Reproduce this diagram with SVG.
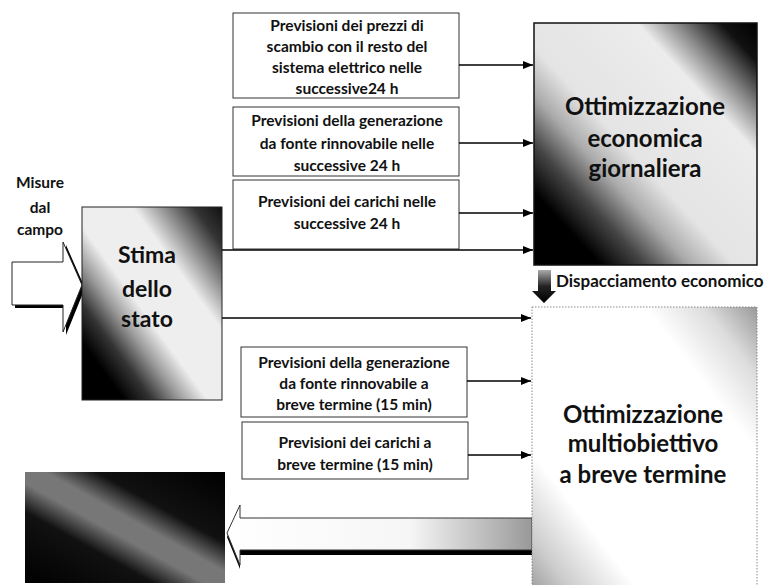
<svg xmlns="http://www.w3.org/2000/svg" width="770" height="585" viewBox="0 0 770 585">
<defs>
<linearGradient id="gDark" x1="1" y1="0" x2="0" y2="1">
<stop offset="0" stop-color="#000"/><stop offset="0.08" stop-color="#111"/><stop offset="0.18" stop-color="#888"/><stop offset="0.27" stop-color="#ececec"/><stop offset="0.55" stop-color="#e4e4e4"/><stop offset="0.65" stop-color="#aaa"/><stop offset="0.75" stop-color="#444"/><stop offset="0.85" stop-color="#000"/><stop offset="1" stop-color="#000"/>
</linearGradient>
<linearGradient id="gStima" x1="1" y1="0" x2="0" y2="1">
<stop offset="0" stop-color="#111"/><stop offset="0.1" stop-color="#333"/><stop offset="0.22" stop-color="#999"/><stop offset="0.32" stop-color="#eee"/><stop offset="0.55" stop-color="#eee"/><stop offset="0.65" stop-color="#999"/><stop offset="0.75" stop-color="#333"/><stop offset="0.85" stop-color="#000"/><stop offset="1" stop-color="#000"/>
</linearGradient>
<linearGradient id="gLight" x1="1" y1="0" x2="0" y2="1">
<stop offset="0" stop-color="#999"/><stop offset="0.12" stop-color="#ddd"/><stop offset="0.25" stop-color="#fff"/><stop offset="0.75" stop-color="#fff"/><stop offset="0.9" stop-color="#ccc"/><stop offset="1" stop-color="#999"/>
</linearGradient>
<linearGradient id="gBlack" x1="0" y1="1" x2="1" y2="0">
<stop offset="0" stop-color="#000"/><stop offset="0.32" stop-color="#111"/><stop offset="0.45" stop-color="#777"/><stop offset="0.55" stop-color="#777"/><stop offset="0.68" stop-color="#111"/><stop offset="1" stop-color="#000"/>
</linearGradient>
<linearGradient id="gShaft" gradientUnits="userSpaceOnUse" x1="227" y1="0" x2="532" y2="0">
<stop offset="0" stop-color="#fff"/><stop offset="0.6" stop-color="#f6f6f6"/><stop offset="1" stop-color="#999"/>
</linearGradient>
<linearGradient id="gDown" x1="0" y1="0" x2="0" y2="1">
<stop offset="0" stop-color="#aaa"/><stop offset="0.5" stop-color="#222"/><stop offset="1" stop-color="#000"/>
</linearGradient>
<marker id="ah" markerWidth="10" markerHeight="8" refX="10" refY="4" orient="auto" markerUnits="userSpaceOnUse">
<path d="M0,0 L10,4 L0,8 Z" fill="#000"/>
</marker>
</defs>
<style>
.box{fill:#fff;stroke:#333;stroke-width:1}
.t{font-family:Lato,"Liberation Sans",sans-serif;font-weight:bold;fill:#111;text-anchor:middle}
.s{font-size:15.5px}
.b{font-size:24px}
.conn{stroke:#000;stroke-width:1.5;fill:none;marker-end:url(#ah)}
</style>

<g id="misure">
<text class="t" font-size="15.5" x="40" y="188">Misure</text>
<text class="t" font-size="15.5" x="40" y="213">dal</text>
<text class="t" font-size="15.5" x="40" y="235">campo</text>
<path d="M15,265 H66 V245 L85,288 L66,335 V308 H15 Z" fill="#000"/>
<path d="M12,262 H63 V242 L82,285 L63,332 V305 H12 Z" fill="#fff" stroke="#222" stroke-width="1"/>
</g>

<g id="stima">
<rect x="82" y="207" width="140" height="193" fill="url(#gStima)" stroke="#222" stroke-width="1"/>
<text class="t" font-size="23" x="147" y="263">Stima</text>
<text class="t" font-size="23" x="147" y="297">dello</text>
<text class="t" font-size="23" x="147" y="327">stato</text>
</g>

<g id="prev-prezzi">
<rect class="box" x="233" y="13" width="226" height="85"/>
<text class="t s" x="347" y="31">Previsioni dei prezzi di</text>
<text class="t s" x="347" y="52">scambio con il resto del</text>
<text class="t s" x="347" y="73">sistema elettrico nelle</text>
<text class="t s" x="347" y="94">successive24 h</text>
</g>

<g id="prev-gen24">
<rect class="box" x="233" y="107" width="226" height="69"/>
<text class="t s" x="347" y="126">Previsioni della generazione</text>
<text class="t s" x="347" y="149">da fonte rinnovabile nelle</text>
<text class="t s" x="347" y="171">successive 24 h</text>
</g>

<g id="prev-car24">
<rect class="box" x="233" y="180" width="226" height="69"/>
<text class="t s" x="347" y="207">Previsioni dei carichi nelle</text>
<text class="t s" x="347" y="229">successive 24 h</text>
</g>

<g id="prev-gen15">
<rect class="box" x="241" y="347" width="226" height="70"/>
<text class="t s" x="354" y="368">Previsioni della generazione</text>
<text class="t s" x="354" y="389">da fonte rinnovabile a</text>
<text class="t s" x="354" y="410">breve termine (15 min)</text>
</g>

<g id="prev-car15">
<rect class="box" x="242" y="422" width="226" height="57"/>
<text class="t s" x="355" y="448">Previsioni dei carichi  a</text>
<text class="t s" x="355" y="470">breve termine (15 min)</text>
</g>

<g id="rete">
<rect x="25" y="472" width="200" height="111" fill="url(#gBlack)"/>
</g>

<g id="feedback">
<path d="M240,509 V521 H532 V555 H240 V569 L227,537 Z" fill="#000"/>
<path d="M240,505 V518 H532 V550 H240 V565 L227,533 Z" fill="url(#gShaft)" stroke="#333" stroke-width="1"/>
</g>

<g id="ott-giorn">
<rect x="534" y="23" width="223" height="242" fill="url(#gDark)" stroke="#111" stroke-width="1.5"/>
<text class="t b" x="645" y="115">Ottimizzazione</text>
<text class="t b" x="645" y="147">economica</text>
<text class="t b" x="645" y="177">giornaliera</text>
</g>

<g id="dispacciamento">
<path d="M538,270 H551 V291 H556 L544,303 L532,291 H538 Z" fill="url(#gDown)"/>
<text font-family="Lato,'Liberation Sans',sans-serif" font-weight="bold" font-size="17" fill="#111" x="556" y="287">Dispacciamento economico</text>
</g>

<g id="ott-breve">
<rect x="532" y="307" width="225" height="290" fill="url(#gLight)" stroke="#888" stroke-width="1" stroke-dasharray="1.5,1.5"/>
<text class="t b" x="643" y="423">Ottimizzazione</text>
<text class="t b" x="643" y="452">multiobiettivo</text>
<text class="t b" x="643" y="483">a breve termine</text>
</g>

<g id="connectors">
<line class="conn" x1="459" y1="65" x2="533" y2="65"/>
<line class="conn" x1="459" y1="143" x2="533" y2="143"/>
<line class="conn" x1="459" y1="213" x2="533" y2="213"/>
<line class="conn" x1="222" y1="250" x2="533" y2="250"/>
<line class="conn" x1="222" y1="318" x2="531" y2="318"/>
<line class="conn" x1="467" y1="381" x2="531" y2="381"/>
<line class="conn" x1="468" y1="455" x2="531" y2="455"/>
</g>
</svg>
